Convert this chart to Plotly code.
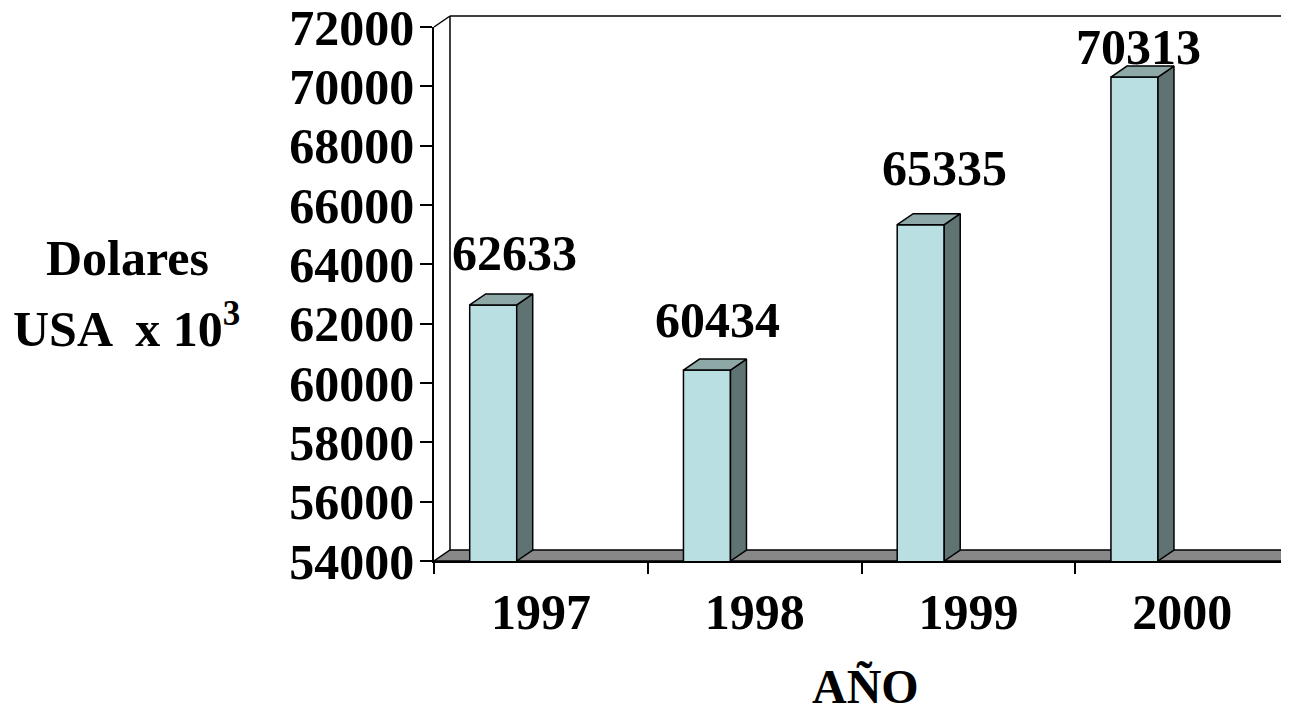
import plotly.graph_objects as go

# ---- data ----
years = ["1997", "1998", "1999", "2000"]
values = [62633, 60434, 65335, 70313]
y_ticks = [54000, 56000, 58000, 60000, 62000, 64000, 66000, 68000, 70000, 72000]

# ---- styling / layout constants ----
PAGE_PAD = 8                      # default body margin of the html page
W, H = 1289 - PAGE_PAD, 711 - PAGE_PAD
ML, MR, MT, MB = 434 - PAGE_PAD, 0, 27 - PAGE_PAD, 711 - 561
YMIN, YMAX = 54000, 72000
XMIN, XMAX = -0.5, 3.5
FONT = "Liberation Serif, Times New Roman, serif"
FACE = "#BADFE2"
TOP = "#8EA8A8"
SIDE = "#5F7373"
FLOOR = "#888888"
DEPTH_PX_X, DEPTH_PX_Y = 16, 11
BAR_OFFSET, BAR_WIDTH = -0.333, 0.22
label_xshift = [21, 11, 24, 4]
label_yshift = [52, 50, 57, 30]
NUM_SIZE = 50

pw = W - ML - MR
ph = H - MT - MB
dx = DEPTH_PX_X / pw * (XMAX - XMIN)
dy = DEPTH_PX_Y / ph * (YMAX - YMIN)
pdx = DEPTH_PX_X / pw
pdy = DEPTH_PX_Y / ph

xs = list(range(len(years)))
fig = go.Figure()

# front faces
fig.add_trace(go.Bar(
    x=xs, y=values, offset=BAR_OFFSET, width=BAR_WIDTH,
    marker=dict(color=FACE, line=dict(color="black", width=1.5)),
    hoverinfo="skip", showlegend=False,
))

# 3D sides and tops
for i, v in enumerate(values):
    xl = i + BAR_OFFSET
    xr = xl + BAR_WIDTH
    fig.add_trace(go.Scatter(
        x=[xr, xr, xr + dx, xr + dx, xr],
        y=[YMIN, v, v + dy, YMIN + dy, YMIN],
        mode="lines", fill="toself", fillcolor=SIDE,
        line=dict(color="black", width=1.5), hoverinfo="skip", showlegend=False,
    ))
    fig.add_trace(go.Scatter(
        x=[xl, xr, xr + dx, xl + dx, xl],
        y=[v, v, v + dy, v + dy, v],
        mode="lines", fill="toself", fillcolor=TOP,
        line=dict(color="black", width=1.5), hoverinfo="skip", showlegend=False,
    ))

# walls and floor (chart frame)
shapes = [
    dict(type="path", xref="paper", yref="paper", layer="below",
         path=f"M 0 0 L 1.05 0 L 1.05 {pdy} L {pdx} {pdy} Z",
         fillcolor=FLOOR, line=dict(color="black", width=1.5)),
    dict(type="line", xref="paper", yref="paper", layer="below",
         x0=pdx, y0=pdy, x1=pdx, y1=1 + pdy, line=dict(color="black", width=1.5)),
    dict(type="line", xref="paper", yref="paper", layer="below",
         x0=pdx, y0=1 + pdy, x1=1.05, y1=1 + pdy, line=dict(color="black", width=1.5)),
    dict(type="line", xref="paper", yref="paper", layer="below",
         x0=0, y0=1, x1=pdx, y1=1 + pdy, line=dict(color="black", width=1.5)),
]

annotations = []
for i, v in enumerate(values):
    annotations.append(dict(
        x=i + BAR_OFFSET + BAR_WIDTH / 2, y=v, xref="x", yref="y",
        text=f"<b>{v}</b>", showarrow=False, xshift=label_xshift[i], yshift=label_yshift[i],
        font=dict(family=FONT, size=NUM_SIZE, color="black"),
    ))


def win_to_paper(px, py):
    """window pixel -> plot paper coordinates"""
    fx = px - PAGE_PAD
    fy = py - PAGE_PAD
    return (fx - ML) / pw, (H - MB - fy) / ph


for txt, (px, py), size in [
    ("<b>Dolares</b>", (127, 258), 50),
    ("<b>USA  x 10<sup>3</sup></b>", (126, 326), 50),
    ("<b>AÑO</b>", (865, 686), 48),
]:
    x, y = win_to_paper(px, py)
    annotations.append(dict(x=x, y=y, xref="paper", yref="paper", xanchor="center",
                            yanchor="middle", text=txt, showarrow=False,
                            font=dict(family=FONT, size=size, color="black")))

fig.update_layout(
    width=W, height=H,
    margin=dict(l=ML, r=MR, t=MT, b=MB, autoexpand=False),
    plot_bgcolor="white", paper_bgcolor="white",
    shapes=shapes, annotations=annotations,
    font=dict(family=FONT, color="black"),
    xaxis=dict(
        range=[XMIN, XMAX], showgrid=False, zeroline=False, automargin=False,
        showline=True, linecolor="black", linewidth=1.5,
        tickvals=xs, ticktext=[f"<b>{y}</b>" for y in years],
        ticks="", ticklabelstandoff=6,
        tickfont=dict(family=FONT, size=NUM_SIZE, color="black"),
        minor=dict(tickvals=[i - 0.5 for i in range(len(years) + 1)], ticks="outside",
                   ticklen=11, tickwidth=1.5, tickcolor="black"),
    ),
    yaxis=dict(
        range=[YMIN, YMAX], showgrid=False, zeroline=False, automargin=False,
        showline=True, linecolor="black", linewidth=1.5,
        tickvals=y_ticks, ticktext=[f"<b>{t}</b>" for t in y_ticks],
        ticks="outside", ticklen=12, tickwidth=1.5, tickcolor="black",
        ticklabelstandoff=-4, ticklabeloverflow="allow",
        tickfont=dict(family=FONT, size=NUM_SIZE, color="black"),
    ),
)

fig.write_html("out.html")
